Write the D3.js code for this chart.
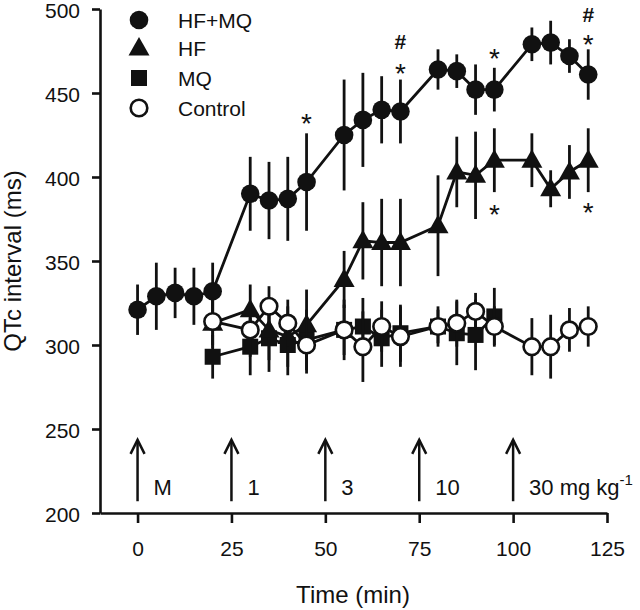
<!DOCTYPE html>
<html>
<head>
<meta charset="utf-8">
<script src="https://cdn.jsdelivr.net/npm/d3@7"></script>
<style>
  html, body { margin: 0; padding: 0; background: #fff; }
  svg { display: block; }
  text { font-family: "Liberation Sans", Arial, sans-serif; fill: #111; }
</style>
</head>
<body>
<svg id="chart" width="640" height="610"></svg>
<script>
// ---------- data ----------
const hfmqT = [0,5,10,15,20,30,35,40,45,55,60,65,70,80,85,90,95,105,110,115,120];
const hfmqV = [321,329,331,329,332,390,386,387,397,425,434,440,439,464,463,452,452,479,480,472,461];
const hfmqE = [15,20,15,17,17,22,23,25,29,33,28,20,19,12,10,15,13,10,13,10,15];

const hfT = [20,30,35,40,45,55,60,65,70,80,85,90,95,105,110,115,120];
const hfV = [313,321,309,305,312,339,362,361,361,371,403,401,410,410,393,403,410];
const hfE = [15,15,18,18,21,17,23,26,26,30,21,26,19,16,11,16,19];

const mqT = [20,30,35,40,45,55,60,65,70,80,85,90,95];
const mqV = [293,299,304,300,303,309,311,304,307,311,307,306,317];
const mqE = [13,17,20,18,18,15,17,17,17,12,19,21,17];

const ctlT = [20,30,35,40,45,55,60,65,70,80,85,90,95,105,110,115,120];
const ctlV = [314,309,323,313,300,309,299,311,305,311,313,320,311,299,299,309,311];
const ctlE = [14,16,12,14,17,18,21,15,18,10,14,11,12,17,19,13,12];

const seriesNames = ["HF+MQ","HF","MQ","Control"];
const xTicks = [0,25,50,75,100,125];
const yTicks = [200,250,300,350,400,450,500];
const doseTimes = [0,25,50,75,100];
const doseLabels = ["M","1","3","10","30 mg kg"];
const annT = [45,70,70,95,120,120,95,120];
const annV = [435,465,481,474,497,482,381,382];
const annS = ["*","*","#","*","#","*","*","*"];

// ---------- scales ----------
const svg = d3.select("#chart");
const x = d3.scaleLinear().domain([-10,125]).range([100,607]);
const y = d3.scaleLinear().domain([200,500]).range([513,9]);

const zip = (T,V,E) => T.map((t,i)=>({t, v:V[i], e:E[i]}));
const series = [
  {name:"MQ", data: zip(mqT,mqV,mqE), shape:"square"},
  {name:"HF", data: zip(hfT,hfV,hfE), shape:"triangle"},
  {name:"HF+MQ", data: zip(hfmqT,hfmqV,hfmqE), shape:"circle"},
  {name:"Control", data: zip(ctlT,ctlV,ctlE), shape:"open"}
];

// ---------- axes ----------
const yAxis = svg.append("g").attr("transform","translate(100,0)")
  .call(d3.axisLeft(y).tickValues(yTicks).tickSize(8).tickSizeOuter(0).tickPadding(12));
const xAxis = svg.append("g").attr("transform","translate(0,513)")
  .call(d3.axisBottom(x).tickValues(xTicks).tickSize(10).tickSizeOuter(0).tickPadding(18));
[yAxis,xAxis].forEach(g=>{
  g.select(".domain").attr("stroke","#111").attr("stroke-width",2.6);
  g.selectAll(".tick line").attr("stroke","#111").attr("stroke-width",2.6);
  g.selectAll(".tick text").attr("font-size",21).attr("font-family","Liberation Sans, Arial, sans-serif").attr("fill","#111");
});
yAxis.selectAll(".tick text").attr("dy","0.4em");

svg.append("text").attr("x",353).attr("y",603).attr("text-anchor","middle")
  .attr("font-size",24).text("Time (min)");
svg.append("text").attr("transform","translate(21,261) rotate(-90)").attr("text-anchor","middle")
  .attr("font-size",24).text("QTc interval (ms)");

// ---------- dose arrows ----------
const arr = svg.append("g").attr("stroke","#111").attr("stroke-width",2.5).attr("fill","none");
doseTimes.forEach((t,i)=>{
  const xx = x(t), y0 = y(207), y1 = y(243.5);
  arr.append("line").attr("x1",xx).attr("x2",xx).attr("y1",y0).attr("y2",y1);
  arr.append("path").attr("d",`M${xx-7},${y1+14} L${xx},${y1} L${xx+7},${y1+14}`);
  const tx = svg.append("text").attr("x",xx+16).attr("y",y(211)).attr("font-size",22).text(doseLabels[i]);
  if (i === doseLabels.length-1) {
    tx.append("tspan").attr("dy",-10).attr("font-size",15).text("-1");
  }
});

// ---------- marker drawing ----------
function drawMarker(g, shape, cx, cy) {
  if (shape === "circle") {
    g.append("circle").attr("cx",cx).attr("cy",cy).attr("r",9.3).attr("fill","#111");
  } else if (shape === "open") {
    g.append("circle").attr("cx",cx).attr("cy",cy).attr("r",8.3).attr("fill","#fff")
      .attr("stroke","#111").attr("stroke-width",2.6);
  } else if (shape === "square") {
    g.append("rect").attr("x",cx-8).attr("y",cy-8).attr("width",16).attr("height",16).attr("fill","#111");
  } else if (shape === "triangle") {
    g.append("path").attr("d",`M${cx},${cy-11} L${cx+10.5},${cy+7.5} L${cx-10.5},${cy+7.5} Z`).attr("fill","#111");
  }
}

const line = d3.line().x(d=>x(d.t)).y(d=>y(d.v));
series.forEach(s=>{
  const g = svg.append("g");
  g.selectAll("line.err").data(s.data).enter().append("line")
    .attr("x1",d=>x(d.t)).attr("x2",d=>x(d.t))
    .attr("y1",d=>y(d.v-d.e)).attr("y2",d=>y(d.v+d.e))
    .attr("stroke","#111").attr("stroke-width",2.8);
  g.append("path").datum(s.data).attr("d",line).attr("fill","none")
    .attr("stroke","#111").attr("stroke-width",2.8);
  s.data.forEach(d=>drawMarker(g, s.shape, x(d.t), y(d.v)));
});

// ---------- significance marks ----------
annT.forEach((t,i)=>{
  const s = annS[i];
  const cy = y(annV[i]);
  if (s === "*") {
    svg.append("text").attr("x",x(t)).attr("y",cy+15).attr("text-anchor","middle")
      .attr("font-family","DejaVu Sans, sans-serif").attr("font-size",28).text("*");
  } else {
    svg.append("text").attr("x",x(t)).attr("y",cy+8).attr("text-anchor","middle")
      .attr("font-size",21).attr("font-weight","bold").text("#");
  }
});

// ---------- legend ----------
const legShapes = ["circle","triangle","square","open"];
const legY = [20,48,78,108];
seriesNames.forEach((n,i)=>{
  const g = svg.append("g");
  drawMarker(g, legShapes[i], 139, legY[i]);
  svg.append("text").attr("x",178).attr("y",legY[i]+7.5).attr("font-size",21).text(n);
});
</script>
</body>
</html>
